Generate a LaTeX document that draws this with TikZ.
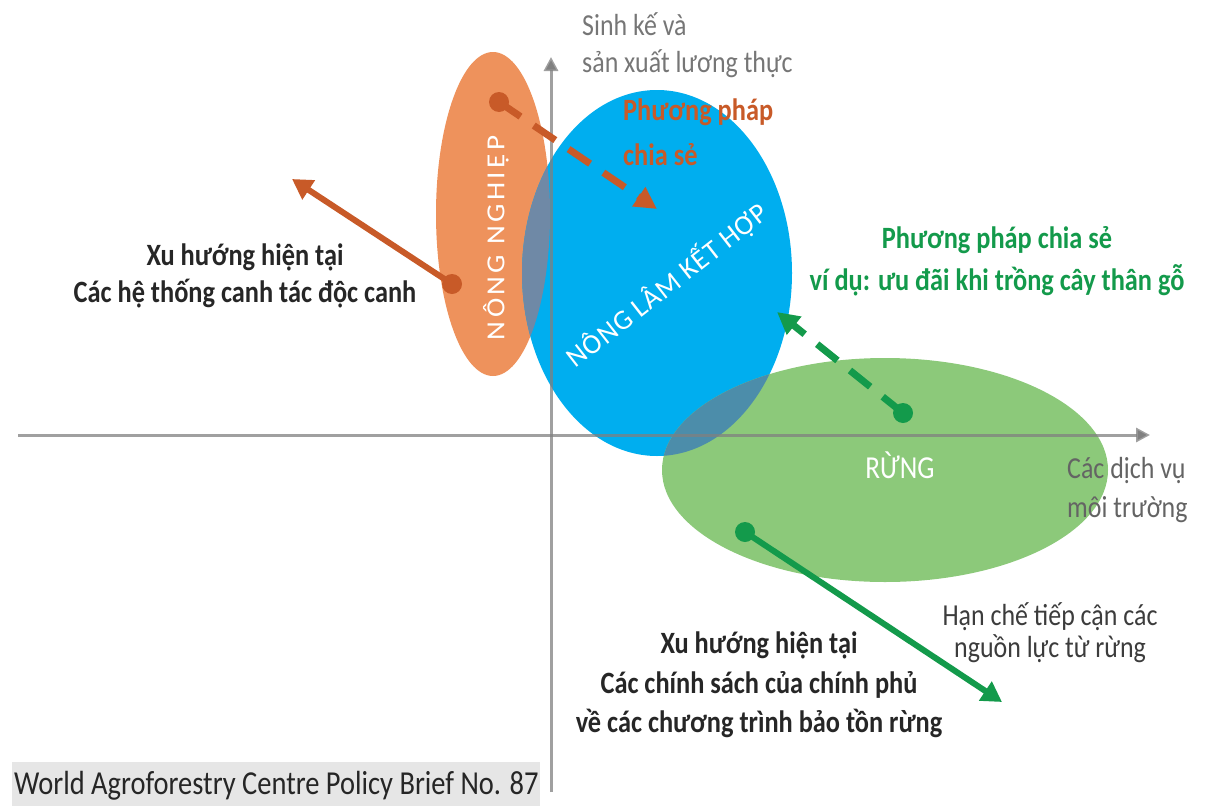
\documentclass[tikz,border=0pt]{standalone}
\usepackage{fontspec}
\setmainfont{Carlito}[FakeStretch=0.85]
\newfontfamily\capsfont{Carlito}[FakeStretch=1.12, LetterSpace=13]
\newfontfamily\diagfont{Carlito}[FakeStretch=1.0, LetterSpace=3]
\usetikzlibrary{arrows.meta}
\definecolor{orfill}{HTML}{EE925C}
\definecolor{ordark}{HTML}{C85A28}
\definecolor{blfill}{HTML}{00AEEF}
\definecolor{grfill}{HTML}{8CC97A}
\definecolor{grdark}{HTML}{139A4B}
\definecolor{obover}{HTML}{6F89A6}
\definecolor{bgover}{HTML}{4C8DAA}
\definecolor{axgray}{HTML}{808080}
\definecolor{lblgray}{HTML}{767676}
\definecolor{txtdark}{HTML}{262626}
\definecolor{boxgray}{HTML}{E6E6E6}
\tikzset{
  axis/.style={draw=axgray, line width=3pt, draw opacity=0.75, -{Triangle[length=14pt,width=14pt]}},
  dot/.style={circle, inner sep=0pt, minimum size=20pt},
  solidarrow/.style={line width=6pt, -{Triangle[length=20pt,width=22pt]}},
  dasharrow/.style={line width=7pt, dash pattern=on 26pt off 16pt, -{Triangle[length=22pt,width=22pt]}},
  lbl/.style={font=\fontsize{30.5}{34}\selectfont, inner sep=0pt, anchor=base},
  lblb/.style={font=\fontsize{31}{34}\selectfont\bfseries, inner sep=0pt, anchor=base},
  inner/.style={text=white, inner sep=0pt}
}
\begin{document}
\begin{tikzpicture}[x=1pt,y=-1pt]
\useasboundingbox (0,0) rectangle (1207,806);
% ellipses
\fill[orfill] (493,214) ellipse [x radius=57, y radius=162];
\fill[blfill] (657,273) ellipse [x radius=135, y radius=183];
\fill[grfill] (885,470) ellipse [x radius=223, y radius=112];
\begin{scope}
  \clip (493,214) ellipse [x radius=57, y radius=162];
  \fill[obover] (657,273) ellipse [x radius=135, y radius=183];
\end{scope}
\begin{scope}
  \clip (885,470) ellipse [x radius=223, y radius=112];
  \fill[bgover] (657,273) ellipse [x radius=135, y radius=183];
\end{scope}
% axes
\coordinate (vb) at (551,792);
\coordinate (vt) at (551,57);
\coordinate (hl) at (18,435);
\coordinate (hr) at (1150,435);
\draw[axis] (vb) -- (vt);
\draw[axis] (hl) -- (hr);
% region labels
\node[inner, rotate=90, font=\capsfont\fontsize{26}{30}\selectfont] (nn) at (496,238) {NÔNG NGHIỆP};
\node[inner, rotate=38, font=\diagfont\fontsize{28}{32}\selectfont] (nlkh) at (667,285) {NÔNG LÂM KẾT HỢP};
\node[inner, font=\fontsize{32}{36}\selectfont, anchor=base] (rung) at (900,478) {RỪNG};
% arrows
\node[dot, fill=ordark] (d1) at (499,102) {};
\coordinate (t1) at (657,209);
\draw[ordark, dasharrow] (d1.center) -- (t1);
\node[dot, fill=ordark] (d2) at (452,284) {};
\coordinate (t2) at (292,179);
\draw[ordark, solidarrow] (d2.center) -- (t2);
\node[dot, fill=grdark] (d3) at (903,413) {};
\coordinate (t3) at (777,312);
\draw[grdark, dasharrow] (d3.center) -- (t3);
\node[dot, fill=grdark] (d4) at (745,532) {};
\coordinate (t4) at (1002,702);
\draw[grdark, solidarrow] (d4.center) -- (t4);
% texts
\node[lbl, text=lblgray, anchor=base west] (yl1) at (582,35) {Sinh kế và};
\node[lbl, text=lblgray, anchor=base west] (yl2) at (582,72) {sản xuất lương thực};
\node[lblb, text=ordark, anchor=base west] (ps1) at (623,120) {Phương pháp};
\node[lblb, text=ordark, anchor=base west] (ps2) at (623,165) {chia sẻ};
\node[lblb, text=grdark] (gp1) at (997,248) {Phương pháp chia sẻ};
\node[lblb, text=grdark] (gp2) at (997,290) {ví dụ: ưu đãi khi trồng cây thân gỗ};
\node[lbl, text=lblgray!85!black, anchor=base west] (dv1) at (1067,478) {Các dịch vụ};
\node[lbl, text=lblgray!85!black, anchor=base west] (dv2) at (1067,517) {môi trường};
\node[lbl, text=txtdark!90!white] (hc1) at (1050,625) {Hạn chế tiếp cận các};
\node[lbl, text=txtdark!90!white] (hc2) at (1050,657) {nguồn lực từ rừng};
\node[lblb, text=txtdark] (xa1) at (245,265) {Xu hướng hiện tại};
\node[lblb, text=txtdark] (xa2) at (245,302) {Các hệ thống canh tác độc canh};
\node[lblb, text=txtdark] (xb1) at (759,653) {Xu hướng hiện tại};
\node[lblb, text=txtdark] (xb2) at (759,693) {Các chính sách của chính phủ};
\node[lblb, text=txtdark] (xb3) at (759,732) {về các chương trình bảo tồn rừng};
\node[fill=boxgray, minimum width=528pt, minimum height=44pt, inner sep=0pt] (srcbox) at (276,784) {};
\node[text=txtdark, font=\fontsize{33.5}{38}\selectfont, inner sep=0pt, anchor=base west] (src) at (14,794) {World Agroforestry Centre Policy Brief No. 87};
\end{tikzpicture}
\end{document}
